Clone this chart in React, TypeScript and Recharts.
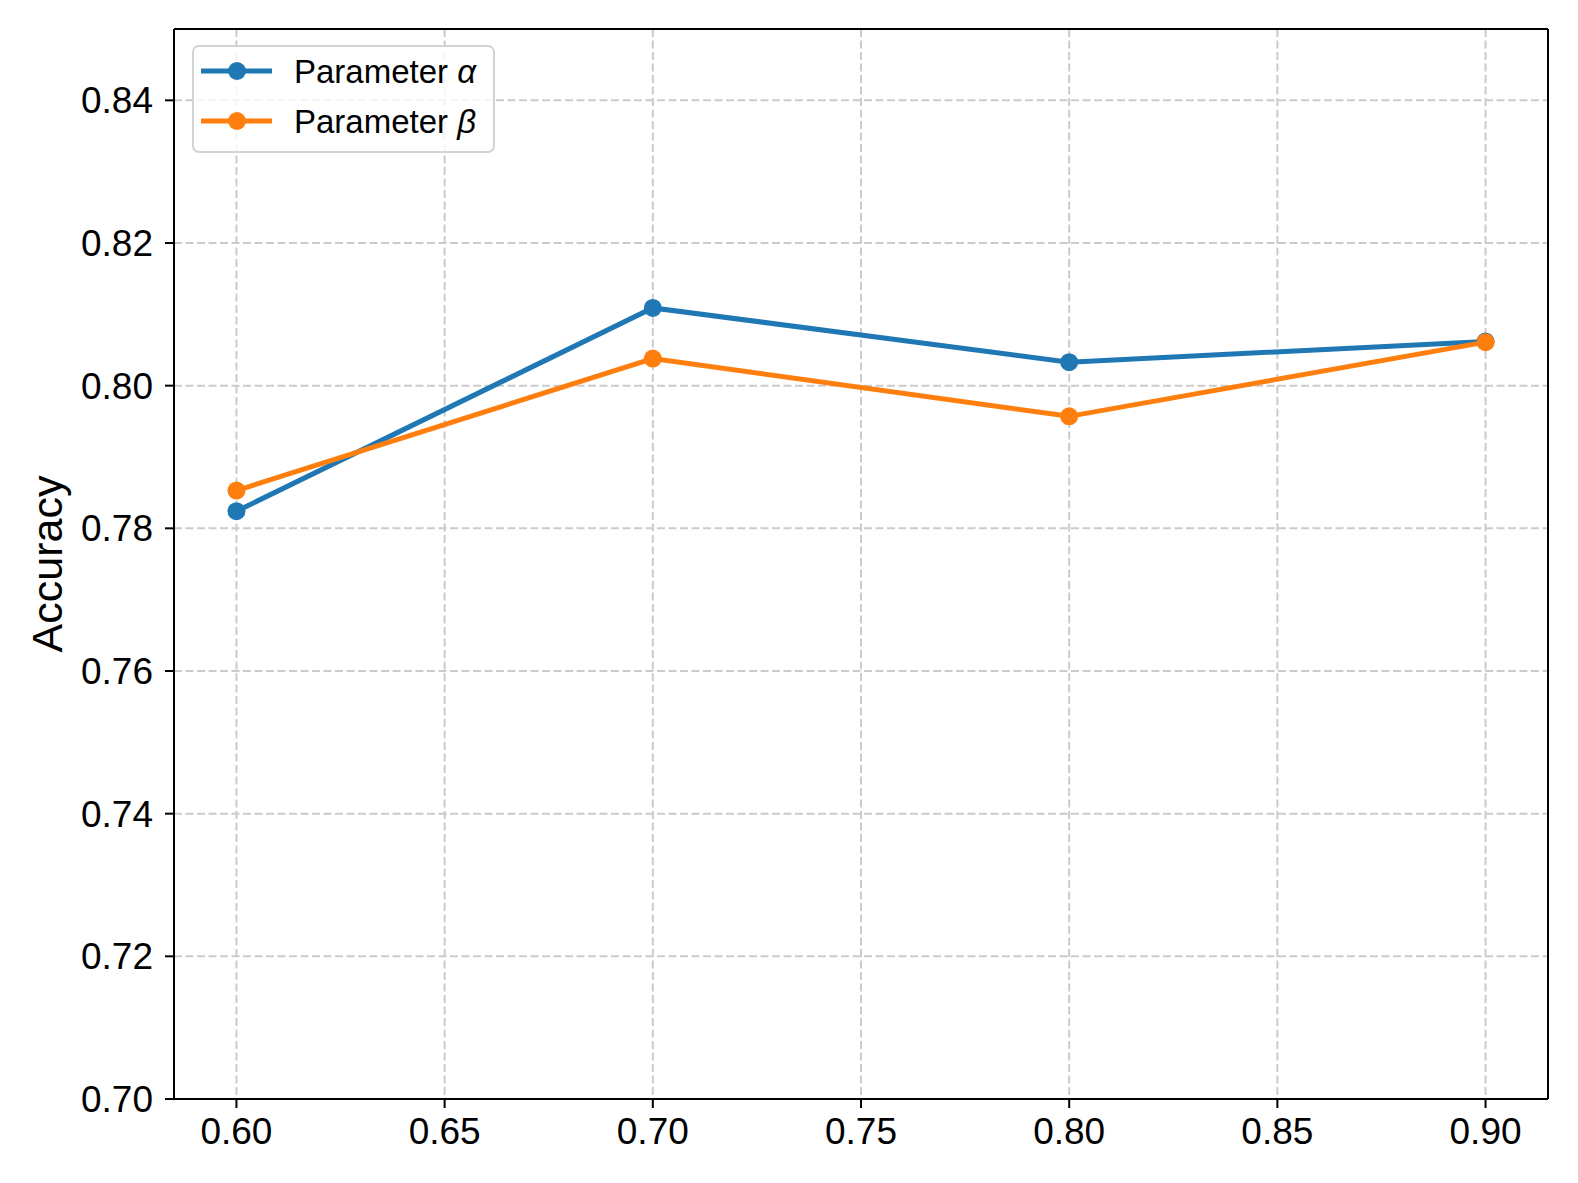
import React from 'react';
import { LineChart, Line, XAxis, YAxis, CartesianGrid, ReferenceLine, Legend } from 'recharts';

const xValues = [0.6, 0.7, 0.8, 0.9];
const alphaValues = [0.7824, 0.8109, 0.8033, 0.8062];
const betaValues = [0.7853, 0.8038, 0.7957, 0.8061];
const xTicks = [0.6, 0.65, 0.7, 0.75, 0.8, 0.85, 0.9];
const yTicks = [0.7, 0.72, 0.74, 0.76, 0.78, 0.8, 0.82, 0.84];
const seriesNames = ['α', 'β'];
const seriesColors = ['#1f77b4', '#ff7f0e'];

const data = xValues.map((x, i) => ({ x, alpha: alphaValues[i], beta: betaValues[i] }));

const FONT = '"Liberation Sans", Arial, Helvetica, sans-serif';
const GRID = '#cbcbcb';

const LegendBox = () => (
  <div
    style={{
      position: 'relative',
      width: 303,
      height: 108,
      boxSizing: 'border-box',
      border: '2px solid #d3d3d3',
      borderRadius: 7,
      background: 'rgba(255,255,255,0.8)',
    }}
  >
    <svg width={303} height={108} style={{ position: 'absolute', left: -2, top: -2 }}>
      {seriesNames.map((n, i) => {
        const cy = 26 + i * 50;
        return (
          <g key={n}>
            <line x1={9} x2={80} y1={cy} y2={cy} stroke={seriesColors[i]} strokeWidth={5} />
            <circle cx={45} cy={cy} r={9} fill={seriesColors[i]} />
            <text x={102} y={cy + 11.5} fontFamily={FONT} fontSize={33} fill="#000">
              Parameter <tspan fontStyle="italic">{n}</tspan>
            </text>
          </g>
        );
      })}
    </svg>
  </div>
);

const YLabel = (props: any) => {
  const vb = props.viewBox || { x: 0, y: 29, width: 174, height: 1070 };
  const cx = vb.x + 62;
  const cy = vb.y + vb.height / 2;
  return (
    <text
      x={cx}
      y={cy}
      transform={`rotate(-90 ${cx} ${cy})`}
      textAnchor="middle"
      fontFamily={FONT}
      fontSize={43}
      fill="#000"
    >
      Accuracy
    </text>
  );
};

export default function App() {
  return (
    <div style={{ position: 'absolute', left: 0, top: 0, width: 1578, height: 1183, background: '#fff' }}>
      <LineChart width={1578} height={1183} data={data} margin={{ top: 29, right: 30, bottom: 0, left: 0 }}>
        <CartesianGrid stroke={GRID} strokeWidth={2} strokeDasharray="8 3.5" />
        <XAxis
          dataKey="x"
          type="number"
          domain={[0.585, 0.915]}
          ticks={xTicks}
          allowDataOverflow
          tickFormatter={(v: number) => v.toFixed(2)}
          height={84}
          tickSize={9}
          tickMargin={10}
          axisLine={{ stroke: '#000', strokeWidth: 2 }}
          tickLine={{ stroke: '#000', strokeWidth: 2 }}
          tick={{ fill: '#000', fontSize: 37, fontFamily: FONT }}
        />
        <YAxis
          type="number"
          domain={[0.7, 0.85]}
          ticks={yTicks}
          allowDataOverflow
          tickFormatter={(v: number) => v.toFixed(2)}
          width={174}
          tickSize={9}
          tickMargin={12}
          axisLine={{ stroke: '#000', strokeWidth: 2 }}
          tickLine={{ stroke: '#000', strokeWidth: 2 }}
          tick={{ fill: '#000', fontSize: 37, fontFamily: FONT }}
          label={<YLabel />}
        />
        <ReferenceLine y={0.85} stroke="#000" strokeWidth={2} />
        <ReferenceLine x={0.915} stroke="#000" strokeWidth={2} />
        <Line
          type="linear"
          dataKey="alpha"
          stroke={seriesColors[0]}
          strokeWidth={5}
          dot={{ r: 9, fill: seriesColors[0], stroke: seriesColors[0], strokeWidth: 0 }}
          activeDot={false}
          isAnimationActive={false}
        />
        <Line
          type="linear"
          dataKey="beta"
          stroke={seriesColors[1]}
          strokeWidth={5}
          dot={{ r: 9, fill: seriesColors[1], stroke: seriesColors[1], strokeWidth: 0 }}
          activeDot={false}
          isAnimationActive={false}
        />
        <Legend
          layout="vertical"
          verticalAlign="middle"
          align="center"
          content={() => <LegendBox />}
          wrapperStyle={{ position: 'absolute', left: 192, top: 45, width: 303, height: 108 }}
        />
      </LineChart>
    </div>
  );
}
